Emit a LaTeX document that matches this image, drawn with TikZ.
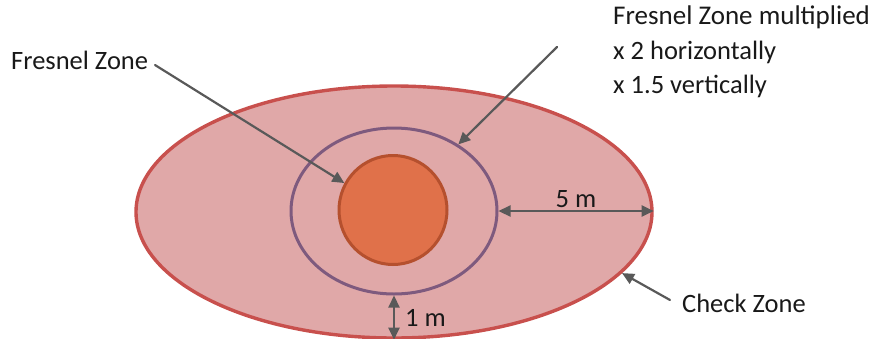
\documentclass[tikz,border=0pt]{standalone}
\usepackage{fontspec}
\setmainfont{Carlito}
\usetikzlibrary{shapes.geometric,arrows.meta}
\definecolor{checkfill}{HTML}{E0A8A8}
\definecolor{checkline}{HTML}{C8504D}
\definecolor{multline}{HTML}{7E5A7E}
\definecolor{fzfill}{HTML}{E0714A}
\definecolor{fzline}{HTML}{B5502E}
\definecolor{arrowgray}{HTML}{595959}
\begin{document}
\begin{tikzpicture}[x=1pt, y=-1pt, line cap=round,
  every node/.style={font=\fontsize{26.5}{34.5}\selectfont, text=black!90},
  zone/.style={draw, ellipse, inner sep=0pt, line width=3pt},
  pointer/.style={draw=arrowgray, line width=2.2pt, -{Triangle[length=12pt, width=11pt]}},
  dim/.style={draw=arrowgray, line width=2.2pt, {Triangle[length=12pt, width=11pt]}-{Triangle[length=12pt, width=11pt]}}]
\useasboundingbox (0,0) rectangle (875,338);

% the three zones, outer first
\node[zone, draw=checkline, fill=checkfill, line width=3.4pt, minimum width=516, minimum height=252] (check) at (394,212) {};
\node[zone, draw=multline, minimum width=206, minimum height=166] (mult) at (394,211) {};
\node[zone, draw=fzline, fill=fzfill, minimum width=108, minimum height=109] (fz) at (393,210) {};

% labels with their pointers
\node[anchor=west, inner sep=1pt] (fzlabel) at (10,60) {Fresnel Zone};
\coordinate (fztail) at (155,65);
\draw[pointer] (fztail) -- (fz.151);

\node[anchor=north west, align=left, inner sep=0pt] (multlabel) at (613,6) {\fontsize{27}{34.5}\selectfont Fresnel Zone multiplied\\x 2 horizontally\\x 1.5 vertically};
\coordinate (multtail) at (557,47);
\draw[pointer] (multtail) -- (mult.46);

\node[anchor=west, inner sep=1pt] (cklabel) at (681,303) {Check Zone};
\coordinate (cktail) at (670,300);
\draw[pointer] (cktail) -- (check.-15);

% distances between the rings
\draw[dim] (mult.east) -- (mult.east -| check.east);
\node[anchor=south, inner sep=2pt] (fivelabel) at (576,210) {5 m};
\draw[dim] (mult.south) -- (check.south);
\node[anchor=west, inner sep=2pt] (onelabel) at (403,318) {1 m};

\end{tikzpicture}
\end{document}
